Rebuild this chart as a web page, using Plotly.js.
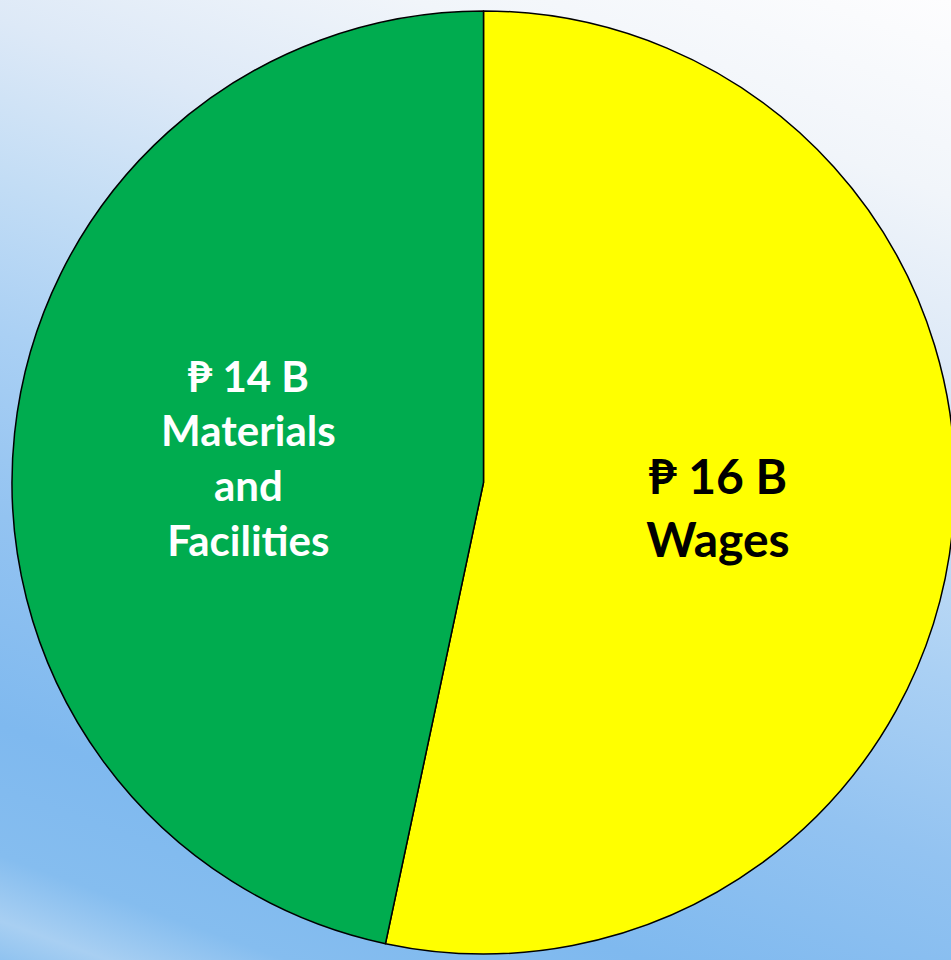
<!DOCTYPE html>
<html>
<head>
<meta charset="utf-8">
<script src="https://cdn.plot.ly/plotly-3.0.1.min.js"></script>
<style>
  html, body { margin: 0; padding: 0; width: 951px; height: 960px; overflow: hidden; }
  body {
    background: linear-gradient(200deg, #fdfdfe 0%, #f1f5fa 15%, #dde9f7 28%, #c3ddf5 40%, #aad0f4 52%, #93c3f1 66%, #7fb9ef 82%, #85bdef 92%, #a8cff2 97%, #90c3f0 100%);
  }
  #chart { position: absolute; left: 0; top: 0; width: 967px; height: 960px; }
</style>
</head>
<body>
<div id="chart"></div>
<script>
const categories = ["Wages", "Materials<br>and<br>Facilities"];
const values = [16, 14];
const valueLabels = ["₱ 16 B", "₱ 14 B"];
const sliceColors = ["#ffff00", "#00ac4f"];
const textColors = ["#000000", "#ffffff"];
const textSizes = [48, 42];

const data = [{
  type: "pie",
  labels: categories,
  values: values,
  text: valueLabels,
  texttemplate: "<b>%{text}<br>%{label}</b>",
  textposition: "inside",
  insidetextorientation: "horizontal",
  sort: false,
  direction: "clockwise",
  rotation: 0,
  marker: { colors: sliceColors, line: { color: "#000000", width: 1.5 } },
  textfont: { family: "Lato, 'Open Sans', sans-serif", color: textColors, size: textSizes },
  hoverinfo: "none",
  showlegend: false,
  domain: { x: [12/967, 955/967], y: [5/960, 950/960] }
}];

const layout = {
  width: 967,
  height: 960,
  margin: { l: 0, r: 0, t: 0, b: 0 },
  paper_bgcolor: "rgba(0,0,0,0)",
  plot_bgcolor: "rgba(0,0,0,0)",
  showlegend: false
};

Plotly.newPlot("chart", data, layout, { displayModeBar: false, staticPlot: true });
</script>
</body>
</html>
